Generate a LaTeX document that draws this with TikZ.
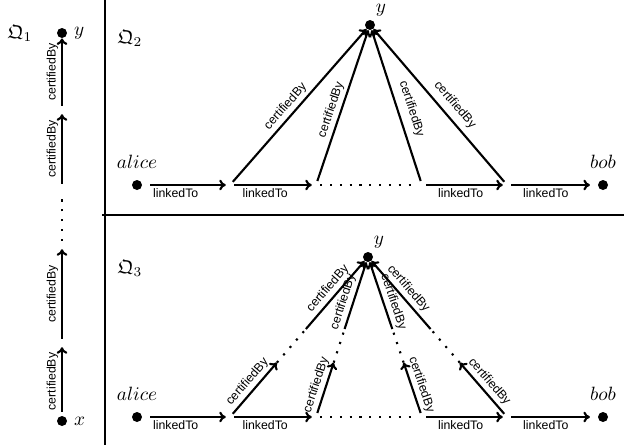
\documentclass[tikz,border=0pt]{standalone}
\usepackage{amsmath,amssymb}
\usepackage{fontspec}
\newfontfamily\edgefont{Liberation Sans}
\usepackage{tikz}
\usetikzlibrary{positioning,
                calc,
                arrows.meta}

\begin{document}
\begin{tikzpicture}
[x=0.52pt,y=-0.52pt,
vertex/.style={circle,fill=black,inner sep=0pt,minimum size=5.2pt},
hub/.style={circle,inner sep=0pt,minimum size=4pt},
edge/.style={-{To[length=3.4pt,width=5.6pt]},line width=1.1pt},
gap/.style={line width=1.1pt,dash pattern=on 1.1pt off 4pt},
rel/.style={font=\edgefont\fontsize{6.4}{7}\selectfont,inner sep=1.5pt},
frame/.style={line width=0.6pt},
ylabel/.style={label={[inner sep=1pt,label distance=1pt]60:$y$}}]
\useasboundingbox (0,0) rectangle (624,445);
% Frames
\draw[frame] (105,0) -- (105,445);
\draw[frame] (102,215) -- (624,215);
% Q1: chain from x to y
\node (q1) at (20,33) {$\mathfrak{Q}_1$};
\node[vertex,label=right:$y$] (y1) at (62,33) {};
\node[vertex,label=right:$x$] (x1) at (62,421) {};
\foreach \name/\py in {c1/343, c2/245, c3/188, c4/110}
\node[hub] (\name) at (62,\py) {};
\draw[edge,shorten <=2pt] (x1) -- node[rel,above,sloped] {certifiedBy} (c1);
\draw[edge] (c1) -- node[rel,above,sloped] {certifiedBy} (c2);
\draw[gap] (c2) -- (c3);
\draw[edge] (c3) -- node[rel,above,sloped] {certifiedBy} (c4);
\draw[edge] (c4) -- node[rel,above,sloped] {certifiedBy} (y1);
% Q2
\node (q2) at (130,38) {$\mathfrak{Q}_2$};
\node[vertex,label={[label distance=2pt]above:$alice$}] (a2) at (137,185) {};
\node[vertex,label={[label distance=2pt]above:$bob$}] (b2) at (603,185) {};
\node[vertex,ylabel] (y2) at (370,25) {};
\foreach \name/\px in {p21/230, p22/316, p23/422, p24/507}
\node[hub] (\name) at (\px,185) {};
\draw[edge,shorten <=4pt] (a2) -- node[rel,below,pos=0.4] {linkedTo} (p21);
\draw[edge] (p21) -- node[rel,below,pos=0.4] {linkedTo} (p22);
\draw[gap] (p22) -- (p23);
\draw[edge] (p23) -- node[rel,below,pos=0.45] {linkedTo} (p24);
\draw[edge,shorten >=4pt] (p24) -- node[rel,below,pos=0.4] {linkedTo} (b2);
\foreach \h/\d in {p21/1.5pt,p22/1.5pt,p23/3.5pt,p24/3pt}
\draw[edge] (\h) -- node[rel,above,sloped,pos=0.45,inner sep=\d] {certifiedBy} (y2);
% Q3
\node (q3) at (130,268) {$\mathfrak{Q}_3$};
\node[vertex,label={[label distance=2pt]above:$alice$}] (a3) at (137,417) {};
\node[vertex,label={[label distance=2pt]above:$bob$}] (b3) at (603,417) {};
\node[vertex,ylabel] (y3) at (368,257) {};
\foreach \name/\px in {p31/230, p32/316, p33/422, p34/507}
\node[hub] (\name) at (\px,417) {};
\draw[edge,shorten <=4pt] (a3) -- node[rel,below,pos=0.4] {linkedTo} (p31);
\draw[edge] (p31) -- node[rel,below,pos=0.4] {linkedTo} (p32);
\draw[gap] (p32) -- (p33);
\draw[edge] (p33) -- node[rel,below,pos=0.45] {linkedTo} (p34);
\draw[edge,shorten >=4pt] (p34) -- node[rel,below,pos=0.4] {linkedTo} (b3);
\foreach \h/\p in {p31/0.5,p32/0.36,p33/0.36,p34/0.5}
{
\coordinate (\h-lo) at ($(\h)!0.34!(y3)$);
\coordinate (\h-hi) at ($(\h)!0.55!(y3)$);
\draw[edge] (\h) -- node[rel,above,sloped] {certifiedBy} (\h-lo);
\draw[gap] (\h-lo) -- (\h-hi);
\draw[edge] (\h-hi) -- node[rel,above,sloped,pos=\p] {certifiedBy} (y3);
}
\end{tikzpicture}
\end{document}
